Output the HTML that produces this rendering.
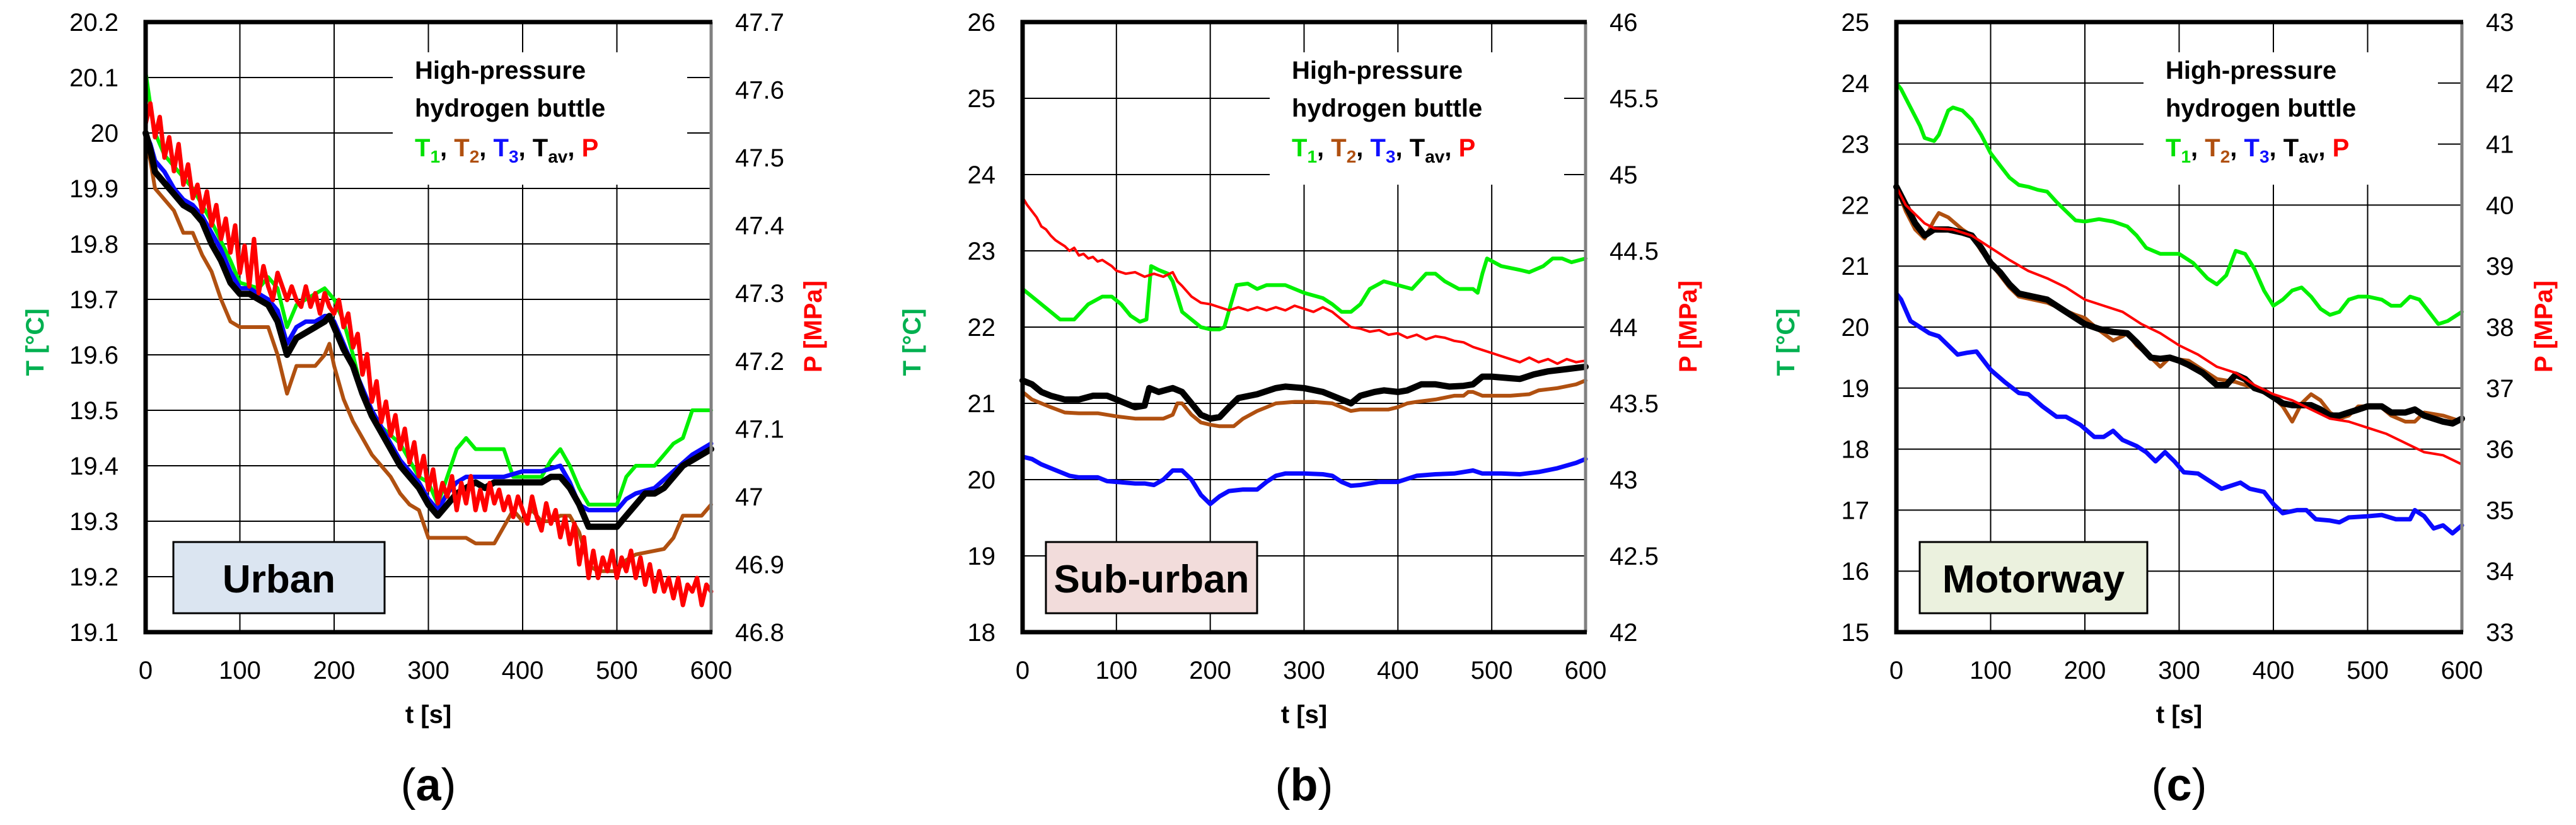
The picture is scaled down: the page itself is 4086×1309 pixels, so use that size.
<!DOCTYPE html>
<html><head><meta charset="utf-8"><style>
html,body{margin:0;padding:0;background:#fff}
svg{display:block}
text{font-family:"Liberation Sans",sans-serif}
</style></head><body>
<svg id="fig" xmlns="http://www.w3.org/2000/svg" width="4086" height="1309" viewBox="0 0 4086 1309"></svg>
<script>
// ---------- Panel (a) Urban ----------
const tA_T1=[0,5,10,20,30,50,70,90,100,120,130,140,150,160,170,190,200,210,220,230,250,270,290,300,310,320,330,340,350,380,390,420,430,440,450,460,470,500,510,520,540,550,560,570,580,600];
const vA_T1=[20.11,20.05,20.0,19.96,19.94,19.90,19.84,19.77,19.73,19.72,19.74,19.72,19.65,19.69,19.70,19.72,19.70,19.66,19.60,19.53,19.47,19.44,19.38,19.37,19.33,19.38,19.43,19.45,19.43,19.43,19.38,19.38,19.41,19.43,19.40,19.36,19.33,19.33,19.38,19.40,19.40,19.42,19.44,19.45,19.50,19.50];
const tA_T2=[0,5,10,20,30,40,50,60,70,80,90,100,130,140,150,160,180,190,195,200,210,220,230,240,250,260,270,280,290,300,340,350,370,380,390,400,410,420,430,440,450,460,470,480,500,510,520,550,560,570,590,600];
const vA_T2=[19.99,19.95,19.90,19.88,19.86,19.82,19.82,19.78,19.75,19.70,19.66,19.65,19.65,19.60,19.53,19.58,19.58,19.60,19.62,19.58,19.52,19.48,19.45,19.42,19.40,19.38,19.35,19.33,19.32,19.27,19.27,19.26,19.26,19.29,19.32,19.30,19.32,19.30,19.30,19.31,19.31,19.28,19.22,19.21,19.21,19.23,19.24,19.25,19.27,19.31,19.31,19.33];
const tA_T3=[0,5,10,20,30,40,50,60,70,80,90,100,110,120,130,140,150,160,170,180,190,195,200,210,220,230,240,250,260,270,280,290,300,310,320,330,340,360,380,400,420,440,450,460,470,500,510,520,540,560,580,600];
const vA_T3=[20.0,19.98,19.95,19.93,19.90,19.88,19.87,19.85,19.82,19.79,19.75,19.72,19.72,19.71,19.70,19.68,19.62,19.65,19.66,19.66,19.67,19.67,19.66,19.62,19.58,19.54,19.50,19.47,19.44,19.41,19.39,19.37,19.34,19.32,19.35,19.37,19.38,19.38,19.38,19.39,19.39,19.40,19.37,19.33,19.32,19.32,19.34,19.35,19.36,19.39,19.42,19.44];
const tA_Tav=[0,5,10,20,30,40,50,60,70,80,90,100,110,120,130,140,150,160,170,180,190,195,200,210,220,230,240,250,260,270,280,290,300,310,320,330,340,350,360,370,380,390,400,410,420,430,440,450,460,470,480,490,500,510,520,530,540,550,560,570,580,590,600];
const vA_Tav=[20.0,19.97,19.93,19.91,19.89,19.87,19.86,19.84,19.80,19.77,19.73,19.71,19.71,19.70,19.69,19.66,19.60,19.63,19.64,19.65,19.66,19.67,19.65,19.61,19.58,19.53,19.49,19.46,19.43,19.40,19.38,19.36,19.33,19.31,19.33,19.35,19.36,19.37,19.36,19.37,19.37,19.37,19.37,19.37,19.37,19.38,19.38,19.36,19.33,19.29,19.29,19.29,19.29,19.31,19.33,19.35,19.35,19.36,19.38,19.40,19.41,19.42,19.43];
const vA_P=[47.55,47.58,47.53,47.56,47.50,47.53,47.48,47.52,47.46,47.49,47.44,47.46,47.42,47.45,47.40,47.43,47.38,47.41,47.36,47.40,47.33,47.37,47.31,47.38,47.30,47.34,47.31,47.29,47.33,47.31,47.29,47.31,47.29,47.28,47.31,47.28,47.30,47.27,47.30,47.28,47.27,47.29,47.25,47.27,47.22,47.24,47.18,47.21,47.14,47.17,47.11,47.14,47.09,47.12,47.07,47.10,47.05,47.08,47.03,47.06,47.01,47.04,46.99,47.02,47.00,47.03,46.98,47.02,46.99,47.03,46.98,47.01,46.98,47.02,46.99,47.01,46.98,47.00,46.97,47.00,46.98,46.96,47.00,46.97,46.95,46.99,46.96,46.98,46.94,46.97,46.93,46.96,46.90,46.94,46.88,46.92,46.88,46.91,46.89,46.92,46.88,46.91,46.89,46.92,46.88,46.91,46.87,46.90,46.86,46.89,46.86,46.88,46.85,46.88,46.84,46.87,46.86,46.88,46.84,46.87,46.86];
const ticksA_T=["19.1","19.2","19.3","19.4","19.5","19.6","19.7","19.8","19.9","20","20.1","20.2"];
const ticksA_P=["46.8","46.9","47","47.1","47.2","47.3","47.4","47.5","47.6","47.7"];

// ---------- Panel (b) Sub-urban ----------
const tB_T1=[0,10,20,30,40,55,70,85,95,105,115,125,132,137,145,155,160,170,180,190,200,210,215,222,228,240,250,260,280,300,320,330,340,350,360,370,385,400,415,430,440,450,465,480,485,490,495,510,530,540,555,565,575,585,600];
const vB_T1=[22.5,22.4,22.3,22.2,22.1,22.1,22.3,22.4,22.4,22.3,22.15,22.07,22.1,22.8,22.75,22.7,22.6,22.2,22.1,22.0,21.97,21.97,22.0,22.3,22.55,22.57,22.5,22.55,22.55,22.45,22.38,22.3,22.2,22.2,22.3,22.5,22.6,22.55,22.5,22.7,22.7,22.6,22.5,22.5,22.45,22.7,22.9,22.8,22.75,22.72,22.8,22.9,22.9,22.85,22.9];
const tB_T2=[0,10,20,30,45,60,80,100,120,150,160,165,170,180,190,200,210,225,235,250,260,270,290,310,330,340,350,360,390,400,410,420,440,460,470,475,480,490,520,540,550,570,590,600];
const vB_T2=[21.15,21.05,21.0,20.95,20.88,20.87,20.87,20.83,20.8,20.8,20.85,21.0,21.0,20.85,20.75,20.72,20.7,20.7,20.8,20.9,20.95,21.0,21.02,21.02,21.0,20.95,20.9,20.92,20.92,20.95,21.0,21.02,21.05,21.1,21.1,21.15,21.15,21.1,21.1,21.12,21.17,21.2,21.25,21.3];
const tB_T3=[0,10,20,30,40,50,60,80,90,100,120,130,140,150,160,170,180,190,200,210,220,235,250,260,270,280,300,320,330,340,350,360,380,400,420,440,460,470,480,490,510,530,550,570,590,600];
const vB_T3=[20.3,20.27,20.2,20.15,20.1,20.05,20.03,20.03,19.98,19.97,19.95,19.95,19.93,20.0,20.12,20.12,20.0,19.8,19.68,19.78,19.85,19.87,19.87,19.97,20.05,20.08,20.08,20.07,20.05,19.97,19.92,19.93,19.97,19.97,20.05,20.07,20.08,20.1,20.12,20.08,20.08,20.07,20.1,20.15,20.22,20.27];
const tB_Tav=[0,10,20,30,45,60,75,90,100,110,120,130,135,145,160,170,180,190,200,210,220,230,250,270,280,300,320,330,340,350,360,375,385,400,410,425,440,455,470,480,490,500,520,530,545,560,580,600];
const vB_Tav=[21.3,21.25,21.15,21.1,21.05,21.05,21.1,21.1,21.05,21.0,20.95,20.97,21.2,21.15,21.2,21.15,21.0,20.85,20.8,20.82,20.95,21.07,21.12,21.2,21.22,21.2,21.15,21.1,21.05,21.0,21.1,21.15,21.17,21.15,21.17,21.25,21.25,21.22,21.23,21.25,21.35,21.35,21.33,21.32,21.38,21.42,21.45,21.48];
const tB_P=[0,5,10,15,20,25,30,35,40,45,50,55,60,65,70,75,80,85,90,95,100,110,120,130,140,150,160,165,170,180,190,200,210,220,230,240,250,260,270,280,290,300,310,320,330,340,350,360,370,380,390,400,410,420,430,440,450,460,470,480,490,500,510,520,530,540,550,560,570,580,590,600];
const vB_P=[44.85,44.8,44.76,44.72,44.66,44.64,44.6,44.57,44.55,44.53,44.5,44.52,44.47,44.48,44.45,44.46,44.43,44.44,44.42,44.4,44.37,44.35,44.36,44.33,44.35,44.33,44.36,44.3,44.27,44.2,44.16,44.15,44.13,44.11,44.13,44.11,44.13,44.11,44.13,44.11,44.14,44.12,44.1,44.13,44.1,44.05,44.0,43.99,43.97,43.98,43.95,43.96,43.93,43.95,43.92,43.94,43.93,43.91,43.9,43.87,43.85,43.83,43.81,43.79,43.77,43.8,43.77,43.79,43.76,43.79,43.77,43.78];
const ticksB_T=["18","19","20","21","22","23","24","25","26"];
const ticksB_P=["42","42.5","43","43.5","44","44.5","45","45.5","46"];

// ---------- Panel (c) Motorway ----------
const tC_T1=[0,5,15,25,30,40,45,55,60,70,80,90,100,110,120,130,140,150,160,170,180,190,200,215,230,245,255,265,280,300,315,330,340,350,360,370,380,390,400,410,420,430,440,450,460,470,480,490,500,515,525,535,545,555,565,575,585,600];
const vC_T1=[24.0,23.9,23.6,23.3,23.1,23.05,23.15,23.55,23.6,23.55,23.4,23.15,22.85,22.65,22.45,22.33,22.3,22.25,22.22,22.05,21.9,21.75,21.73,21.77,21.73,21.65,21.5,21.3,21.2,21.2,21.05,20.8,20.7,20.85,21.25,21.2,20.95,20.6,20.35,20.45,20.6,20.65,20.5,20.3,20.2,20.25,20.45,20.5,20.5,20.45,20.35,20.35,20.5,20.45,20.25,20.05,20.1,20.25];
const tC_T2=[0,10,20,30,40,45,55,70,80,90,100,110,120,130,145,160,175,190,200,215,230,240,245,255,270,280,290,300,310,325,340,360,380,400,410,420,430,440,450,460,470,480,490,500,515,525,540,550,560,580,590,600];
const vC_T2=[22.3,21.9,21.6,21.45,21.75,21.87,21.8,21.6,21.5,21.25,21.05,20.85,20.65,20.5,20.45,20.4,20.3,20.2,20.15,19.95,19.78,19.85,19.9,19.7,19.5,19.35,19.5,19.47,19.45,19.3,19.15,19.1,19.0,18.85,18.7,18.45,18.75,18.9,18.8,18.6,18.5,18.55,18.7,18.7,18.68,18.55,18.45,18.45,18.6,18.55,18.5,18.45];
const tC_T3=[0,5,15,25,35,45,55,65,75,85,100,115,130,140,155,170,180,195,210,220,230,240,255,265,275,285,295,305,320,335,345,355,365,375,390,400,410,425,435,445,460,470,480,500,515,530,545,550,560,570,580,590,600];
const vC_T3=[20.55,20.45,20.1,20.0,19.9,19.85,19.7,19.55,19.58,19.6,19.3,19.1,18.92,18.9,18.7,18.53,18.53,18.4,18.2,18.2,18.3,18.15,18.05,17.95,17.8,17.95,17.8,17.62,17.6,17.45,17.35,17.4,17.45,17.35,17.3,17.1,16.95,17.0,17.0,16.85,16.83,16.8,16.88,16.9,16.92,16.85,16.85,17.0,16.9,16.7,16.75,16.62,16.75];
const tC_Tav=[0,10,20,30,40,55,70,80,90,100,110,120,130,145,160,175,190,200,215,230,245,255,270,280,290,300,310,325,340,350,360,370,380,390,400,410,420,430,440,450,460,470,480,490,500,515,525,540,550,560,570,580,590,600];
const vC_Tav=[22.3,22.0,21.7,21.5,21.6,21.6,21.55,21.5,21.3,21.05,20.9,20.7,20.55,20.5,20.45,20.3,20.15,20.05,19.97,19.92,19.9,19.75,19.5,19.48,19.5,19.45,19.38,19.25,19.05,19.05,19.22,19.15,19.0,18.95,18.85,18.75,18.72,18.72,18.72,18.65,18.55,18.55,18.6,18.65,18.7,18.7,18.6,18.6,18.65,18.55,18.5,18.45,18.42,18.5];
const tC_P=[0,10,20,30,40,60,80,100,120,140,160,180,200,220,240,260,280,300,320,340,360,380,400,420,440,460,480,500,520,540,560,580,600];
const vC_P=[40.3,40.0,39.85,39.7,39.62,39.6,39.5,39.3,39.1,38.92,38.8,38.65,38.45,38.35,38.25,38.05,37.9,37.7,37.55,37.35,37.25,37.05,36.9,36.8,36.65,36.5,36.45,36.35,36.25,36.1,35.95,35.9,35.75];
const ticksC_T=["15","16","17","18","19","20","21","22","23","24","25"];
const ticksC_P=["33","34","35","36","37","38","39","40","41","42","43"];
const ticksX=["0","100","200","300","400","500","600"];

const NS="http://www.w3.org/2000/svg";
const svg=document.getElementById('fig');
function mk(tag,attrs,parent){const e=document.createElementNS(NS,tag);for(const k in attrs)e.setAttribute(k,attrs[k]);(parent||svg).appendChild(e);return e;}

function drawPanel(c){
  const g=mk('g',{});
  
  
  const X0=c.x0,X1=c.x1,Y0=35,Y1=1003;
  const tMin=+ticksX[0],tMax=+ticksX[ticksX.length-1];
  const tMinT=+c.tt[0],tMaxT=+c.tt[c.tt.length-1];
  const pMin=+c.pt[0],pMax=+c.pt[c.pt.length-1];
  const xs=t=>X0+(t-tMin)/(tMax-tMin)*(X1-X0);
  const ysT=v=>Y1-(v-tMinT)/(tMaxT-tMinT)*(Y1-Y0);
  const ysP=v=>Y1-(v-pMin)/(pMax-pMin)*(Y1-Y0);
  ticksX.forEach(l=>{const x=xs(+l);const ln=mk('line',{x1:x,x2:x,y1:Y0,y2:Y1,stroke:'#000','stroke-width':2},g);
    
    const tx=mk('text',{x:x,y:1077,'font-size':40,'text-anchor':'middle'},g);tx.textContent=l;
    });
  c.tt.forEach(l=>{const y=ysT(+l);const ln=mk('line',{x1:X0,x2:X1,y1:y,y2:y,stroke:'#000','stroke-width':2},g);
    
    const tx=mk('text',{x:X0-43,y:y+14,'font-size':40,'text-anchor':'end'},g);tx.textContent=l;
    });
  c.pt.forEach(l=>{const y=ysP(+l);
    const tx=mk('text',{x:X1+38,y:y+14,'font-size':40,'text-anchor':'start'},g);tx.textContent=l;
    });
  const lb=mk('rect',{x:X0+392,y:83,width:467,height:210,fill:'#fff'},g);
  
  const lx=X0+427;
  const l1=mk('text',{x:lx,y:125,'font-size':40,'font-weight':'bold'},g);l1.textContent='High-pressure';
  
  const l2=mk('text',{x:lx,y:185,'font-size':40,'font-weight':'bold'},g);l2.textContent='hydrogen buttle';
  
  const l3=mk('text',{x:lx,y:248,'font-size':40,'font-weight':'bold'},g);
  
  l3.innerHTML='<tspan fill="#00e000">T<tspan font-size="28" dy="10">1</tspan></tspan><tspan dy="-10">, </tspan><tspan fill="#b05010">T<tspan font-size="28" dy="10">2</tspan></tspan><tspan dy="-10">, </tspan><tspan fill="#1010ff">T<tspan font-size="28" dy="10">3</tspan></tspan><tspan dy="-10">, T</tspan><tspan font-size="28" dy="10">av</tspan><tspan dy="-10">, </tspan><tspan fill="#ff0000">P</tspan>';
  const rb=mk('rect',{x:X0+c.bx,y:860,width:c.bw,height:113,fill:c.bfill,stroke:'#000','stroke-width':3},g);
  
  const rt=mk('text',{x:X0+c.bx+c.bw/2,y:940,'font-size':62,'font-weight':'bold','text-anchor':'middle'},g);rt.textContent=c.label;
  
  function line(ts,vs,ys,col,w,nm){let d='';for(let i=0;i<vs.length;i++){d+=(i?'L':'M')+xs(ts[i]).toFixed(1)+','+ys(vs[i]).toFixed(1);}
    const p=mk('path',{d:d,fill:'none',stroke:col,'stroke-width':w,'stroke-linejoin':'round','stroke-linecap':'round'},g);
    }
  line(c.s.T1[0],c.s.T1[1],ysT,'#00f000',6,'series-t1');
  line(c.s.T2[0],c.s.T2[1],ysT,'#b05010',6,'series-t2');
  line(c.s.T3[0],c.s.T3[1],ysT,'#0a0aff',7,'series-t3');
  line(c.s.Tav[0],c.s.Tav[1],ysT,'#000',10,'series-tav');
  line(c.s.P[0],c.s.P[1],ysP,'#ff0000',c.pw,'series-p');
  const fr=mk('line',{x1:X1,x2:X1,y1:Y0,y2:Y1,stroke:'#808080','stroke-width':5},g);
  
  const fp=mk('path',{d:`M${X1+2},${Y0}H${X0}V${Y1}H${X1+2}`,fill:'none',stroke:'#000','stroke-width':7},g);
  
  const xt=mk('text',{x:(X0+X1)/2,y:1147,'font-size':40,'font-weight':'bold','text-anchor':'middle'},g);xt.textContent='t [s]';
  
  const yt=mk('text',{x:0,y:0,'font-size':40,'font-weight':'bold','text-anchor':'middle',fill:'#00b050',transform:`translate(${X0-162},543) rotate(-90)`},g);yt.textContent='T [°C]';
  
  const pt=mk('text',{x:0,y:0,'font-size':40,'font-weight':'bold','text-anchor':'middle',fill:'#ff0000',transform:`translate(${X1+c.pOff},518) rotate(-90)`},g);pt.textContent='P [MPa]';
  
  const cp=mk('text',{x:(X0+X1)/2,y:1270,'font-size':72,'text-anchor':'middle','font-family':'Liberation Serif, serif'},g);
  cp.innerHTML='(<tspan font-weight="bold">'+c.cap+'</tspan>)';
  
}
const stepA=600/(vA_P.length-1);
const tA_P=vA_P.map((_,i)=>i*stepA);
drawPanel({name:'panel-urban',x0:231,x1:1128,tt:ticksA_T,pt:ticksA_P,bx:44,bw:335,bfill:'#dbe5f1',label:'Urban',cap:'a',pw:7,pOff:175,
  s:{T1:[tA_T1,vA_T1],T2:[tA_T2,vA_T2],T3:[tA_T3,vA_T3],Tav:[tA_Tav,vA_Tav],P:[tA_P,vA_P]}});
drawPanel({name:'panel-suburban',x0:1622,x1:2515,tt:ticksB_T,pt:ticksB_P,bx:37,bw:335,bfill:'#f2dcdb',label:'Sub-urban',cap:'b',pw:4,pOff:176,
  s:{T1:[tB_T1,vB_T1],T2:[tB_T2,vB_T2],T3:[tB_T3,vB_T3],Tav:[tB_Tav,vB_Tav],P:[tB_P,vB_P]}});
drawPanel({name:'panel-motorway',x0:3008,x1:3905,tt:ticksC_T,pt:ticksC_P,bx:37,bw:361,bfill:'#ebf1de',label:'Motorway',cap:'c',pw:4,pOff:143,
  s:{T1:[tC_T1,vC_T1],T2:[tC_T2,vC_T2],T3:[tC_T3,vC_T3],Tav:[tC_Tav,vC_Tav],P:[tC_P,vC_P]}});
</script>
</body></html>
